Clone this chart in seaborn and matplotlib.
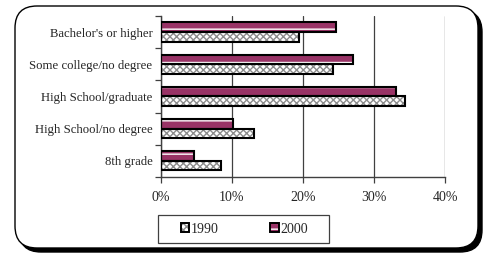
import pandas as pd
import seaborn as sns
import matplotlib.pyplot as plt
from matplotlib.patches import Rectangle, FancyBboxPatch, Patch
from matplotlib.legend_handler import HandlerTuple
from matplotlib.ticker import FixedLocator

# data
levels = ["Bachelor's or higher", "Some college/no degree", "High School/graduate",
          "High School/no degree", "8th grade"]
pct_1990 = [19.5, 24.2, 34.4, 13.1, 8.4]
pct_2000 = [24.7, 27.1, 33.1, 10.1, 4.6]
years = ["1990", "2000"]

df = pd.DataFrame({
    "level": levels * 2,
    "year": ["1990"] * len(levels) + ["2000"] * len(levels),
    "pct": pct_1990 + pct_2000,
})

sns.set_style("white")
plt.rcParams["font.family"] = ["Liberation Serif", "DejaVu Serif"]

fig = plt.figure(figsize=(4.86, 2.59), dpi=100)
line_col = "#404040"

# rounded frame with shadow
shadow = FancyBboxPatch((0.19, 0.07), 4.63, 2.42, boxstyle="round,pad=0,rounding_size=0.22",
                        transform=fig.dpi_scale_trans, fc="black", ec="black", lw=1, zorder=-3)
frame = FancyBboxPatch((0.15, 0.11), 4.63, 2.42, boxstyle="round,pad=0,rounding_size=0.22",
                       transform=fig.dpi_scale_trans, fc="white", ec="black", lw=1, zorder=-2)
fig.patches.extend([shadow, frame])

ax = fig.add_axes([0.331, 0.317, 0.585, 0.621])
ax.patch.set_alpha(0)
sns.barplot(data=df, y="level", x="pct", hue="year", hue_order=["2000", "1990"],
            orient="h", width=0.6, legend=False, ax=ax, order=levels)

styles = {
    "2000": dict(fc="#993366", hatch="--", hc="white"),
    "1990": dict(fc="white", hatch="xxxxx", hc="#8c8c8c"),
}
for cont, yr in zip(ax.containers, ["2000", "1990"]):
    st = styles[yr]
    for p in cont:
        p.set_facecolor(st["fc"])
        p.set_hatch(st["hatch"])
        p.set_edgecolor(st["hc"])
        p.set_linewidth(0)
        ax.add_patch(Rectangle(p.get_xy(), p.get_width(), p.get_height(),
                               fill=False, ec="black", lw=1.5, zorder=3))

ax.set_xlim(0, 40)
ax.set_ylim(4.5, -0.5)
ax.set_xticks([0, 10, 20, 30, 40])
ax.set_xticklabels(["%d%%" % v for v in [0, 10, 20, 30, 40]], fontsize=10)
ax.xaxis.grid(True, color=line_col, lw=0.9)
ax.set_axisbelow(True)
ax.tick_params(axis="x", length=4, width=0.9, color=line_col, direction="out", bottom=True, pad=6)
ax.tick_params(axis="y", which="major", length=0, labelsize=9.2, pad=6)
ax.yaxis.set_minor_locator(FixedLocator([-0.5, 0.5, 1.5, 2.5, 3.5, 4.5]))
ax.tick_params(axis="y", which="minor", length=4, width=0.9, color=line_col, direction="out", left=True)
for s in ["top", "right"]:
    ax.spines[s].set_visible(False)
for s in ["left", "bottom"]:
    ax.spines[s].set_color(line_col)
    ax.spines[s].set_linewidth(1.0)
ax.set_xlabel("")
ax.set_ylabel("")

# legend
handles = []
for yr in years:
    st = styles[yr]
    handles.append((Patch(fc=st["fc"], hatch=st["hatch"], ec=st["hc"], lw=0),
                    Patch(fill=False, ec="black", lw=1.4)))
leg = fig.legend(handles, years, handler_map={tuple: HandlerTuple(ndivide=1)},
                 loc="center", bbox_to_anchor=(0.503, 0.115), ncol=2, fontsize=10,
                 frameon=False, handlelength=0.6, handleheight=0.6,
                 handletextpad=0.15, columnspacing=3.7, borderpad=0, borderaxespad=0)
fig.patches.append(Rectangle((158 / 486, 1 - 243 / 259), 171 / 486, 28 / 259,
                             transform=fig.transFigure, fill=False, ec=line_col, lw=0.9))

fig.savefig("out.png", dpi=100)
